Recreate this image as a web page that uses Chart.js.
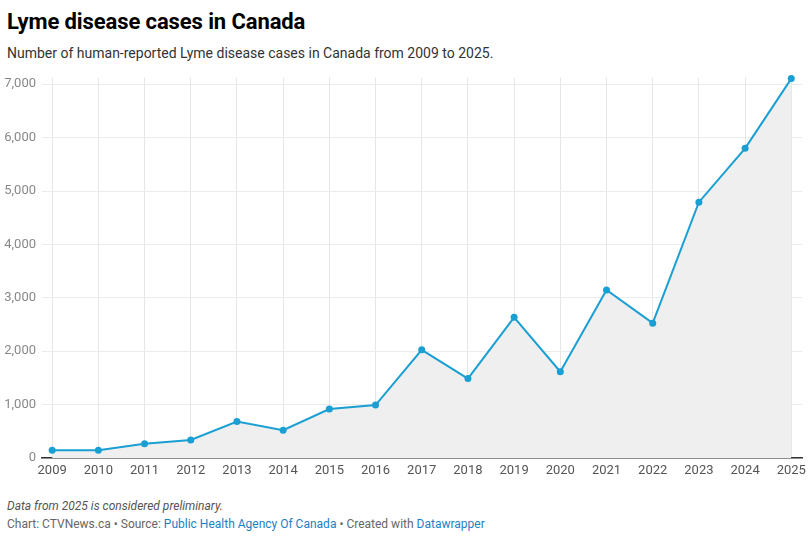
<!DOCTYPE html>
<html>
<head>
<meta charset="utf-8">
<script src="https://cdn.jsdelivr.net/npm/chart.js@4"></script>
<style>
  body { margin: 0; background: #fff; font-family: Roboto, "Noto Sans", sans-serif; }
  #wrap { position: relative; width: 811px; height: 536px; }
  h1 { position: absolute; left: 7px; top: 9px; margin: 0; font-size: 22px; font-weight: 700; color: #000; letter-spacing: -0.1px; }
  .sub { position: absolute; left: 7px; top: 45px; font-size: 14px; color: #333; }
  #box { position: absolute; left: 0; top: 64px; width: 811px; height: 421px; }
  .note { position: absolute; left: 7px; top: 499px; font-size: 12px; font-style: italic; color: #555; }
  .credit { position: absolute; left: 7px; top: 517px; font-size: 12px; color: #666; }
  .credit a { color: #1d7fc3; text-decoration: none; }
</style>
</head>
<body>
<div id="wrap">
  <h1>Lyme disease cases in Canada</h1>
  <div class="sub">Number of human-reported Lyme disease cases in Canada from 2009 to 2025.</div>
  <div id="box"><canvas id="graph"></canvas></div>
  <div class="note">Data from 2025 is considered preliminary.</div>
  <div class="credit">Chart: CTVNews.ca • Source: <a>Public Health Agency Of Canada</a> • Created with <a>Datawrapper</a></div>
</div>
<script>
// years on the x axis
const years = [2009, 2010, 2011, 2012, 2013, 2014, 2015, 2016, 2017,
               2018, 2019, 2020, 2021, 2022, 2023, 2024, 2025];
// reported cases per year
const cases = [144, 143, 266, 338, 682, 522, 917, 992, 2025,
               1487, 2634, 1615, 3147, 2525, 4790, 5800, 7105];
// y axis tick values
const yTicks = [0, 1000, 2000, 3000, 4000, 5000, 6000, 7000];

const points = years.map((yr, i) => ({x: yr, y: cases[i]}));

new Chart(document.getElementById('graph'), {
    type: 'line',
    data: {
        datasets: [{
            data: points,
            borderColor: '#1a9fd3',
            borderWidth: 2,
            backgroundColor: '#efefef',
            fill: 'origin',
            pointRadius: 3.5,
            pointBackgroundColor: '#1a9fd3',
            pointBorderWidth: 0,
            tension: 0,
            clip: false
        }]
    },
    options: {
        responsive: true,
        maintainAspectRatio: false,
        animation: false,
        layout: {padding: {top: 0, right: 7, left: 0, bottom: 0}},
        plugins: {legend: {display: false}, tooltip: {enabled: false}},
        scales: {
            x: {
                type: 'linear',
                min: 2008.78,
                max: 2025.24,
                afterFit: s => { s.height = 27; },
                border: {display: true, color: '#333', width: 1.5},
                grid: {color: '#e6e6e6', drawTicks: false},
                ticks: {
                    stepSize: 1,
                    includeBounds: false,
                    autoSkip: false,
                    maxRotation: 0,
                    padding: 5,
                    color: '#555',
                    font: {family: 'Roboto', size: 13},
                    callback: v => String(v)
                }
            },
            y: {
                min: 0,
                max: 7120,
                afterFit: s => { s.width = 42; },
                afterBuildTicks: s => { s.ticks = yTicks.map(v => ({value: v})); },
                border: {display: false},
                grid: {color: '#ebebeb', drawTicks: false},
                ticks: {
                    padding: 6,
                    color: '#888',
                    font: {family: 'Roboto', size: 13},
                    callback: v => v.toLocaleString('en-US')
                }
            }
        }
    }
});
</script>
</body>
</html>
